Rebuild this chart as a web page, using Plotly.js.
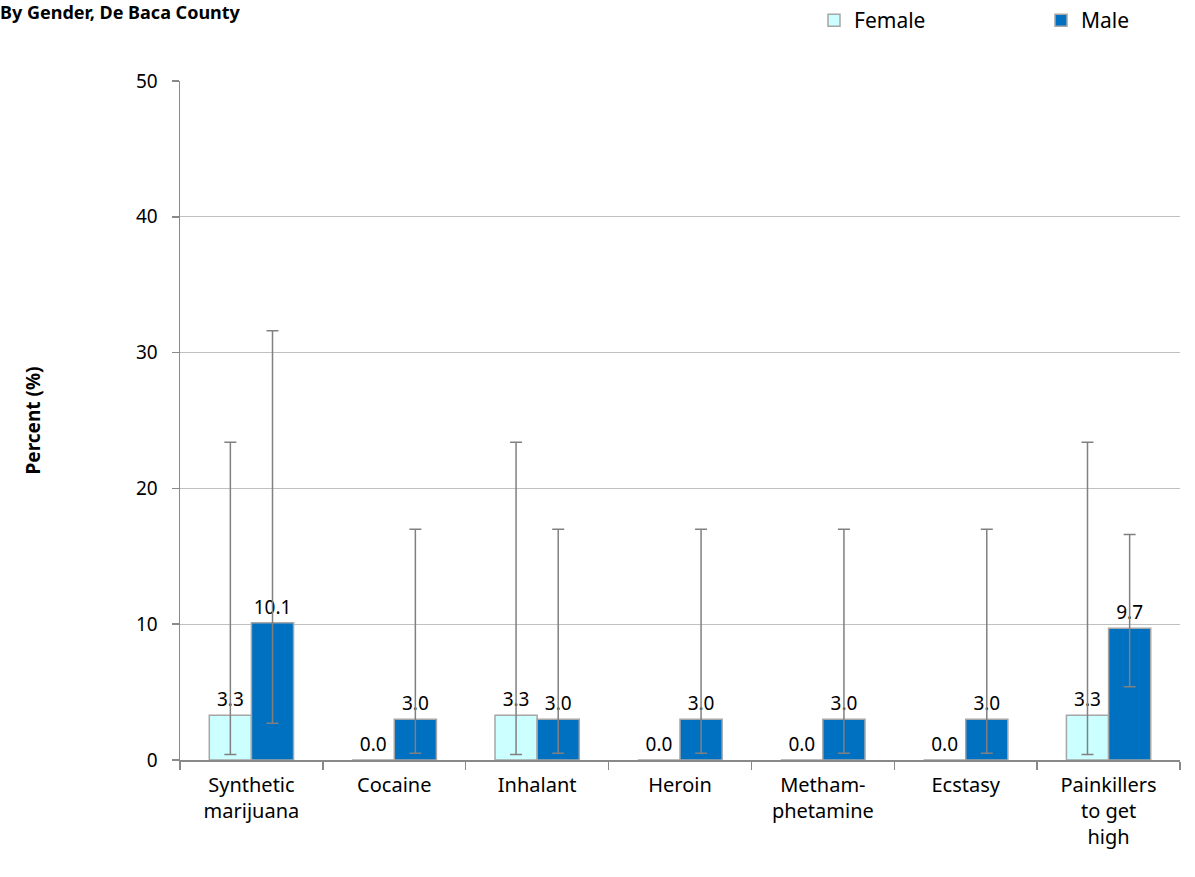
<!DOCTYPE html>
<html>
<head>
<meta charset="utf-8">
<script src="https://cdn.plot.ly/plotly-3.0.1.min.js"></script>
<style>html,body{margin:0;padding:0;background:#fff;}#chart{width:1195px;height:877px;}</style>
</head>
<body>
<div id="chart"></div>
<script>
const categories = ["Synthetic<br>marijuana", "Cocaine", "Inhalant", "Heroin", "Metham-<br>phetamine", "Ecstasy", "Painkillers<br>to get<br>high"];
const femaleValues = [3.3, 0.0, 3.3, 0.0, 0.0, 0.0, 3.3];
const femaleUpper = [23.4, null, 23.4, null, null, null, 23.4];
const femaleLower = [0.4, null, 0.4, null, null, null, 0.4];
const maleValues = [10.1, 3.0, 3.0, 3.0, 3.0, 3.0, 9.7];
const maleUpper = [31.6, 17.0, 17.0, 17.0, 17.0, 17.0, 16.6];
const maleLower = [2.7, 0.5, 0.5, 0.5, 0.5, 0.5, 5.4];

const FONT = "Noto Sans, Open Sans, sans-serif";

function errs(vals, up, lo) {
  return {
    type: 'data', symmetric: false,
    array: vals.map((v, i) => up[i] == null ? NaN : up[i] - v),
    arrayminus: vals.map((v, i) => lo[i] == null ? NaN : v - lo[i]),
    color: '#808080', thickness: 1.5, width: 6,
    visible: true
  };
}

const traces = [
  {
    type: 'bar', name: 'Female', x: categories, y: femaleValues, legend: 'legend',
    marker: {color: '#CCFFFF', line: {color: '#A6A6A6', width: 1.5}},
    text: femaleValues.map(v => v.toFixed(1)), textposition: 'outside',
    textfont: {family: FONT, size: 19, color: '#000'},
    cliponaxis: false,
    error_y: errs(femaleValues, femaleUpper, femaleLower)
  },
  {
    type: 'bar', name: 'Male', x: categories, y: maleValues, legend: 'legend2',
    marker: {color: '#0070C0', line: {color: '#A6A6A6', width: 1.5}},
    text: maleValues.map(v => v.toFixed(1)), textposition: 'outside',
    textfont: {family: FONT, size: 19, color: '#000'},
    cliponaxis: false,
    error_y: errs(maleValues, maleUpper, maleLower)
  }
];

const legendBase = {
  orientation: 'h', xanchor: 'left', y: 1.0, yref: 'container', yanchor: 'top',
  font: {family: FONT, size: 21, color: '#000'}
};

const layout = {
  width: 1195, height: 877,
  margin: {l: 180, r: 15, t: 81, b: 117},
  paper_bgcolor: '#fff', plot_bgcolor: '#fff',
  font: {family: FONT, color: '#000'},
  barmode: 'group', bargap: 0.41, bargroupgap: 0,
  title: {
    text: '<b>By Gender, De Baca County</b>',
    font: {family: FONT, size: 18, color: '#000'},
    x: 0, xref: 'container', xanchor: 'left',
    y: 0.986, yref: 'container', yanchor: 'middle'
  },
  showlegend: true,
  legend: Object.assign({}, legendBase, {x: 0.634}),
  legend2: Object.assign({}, legendBase, {x: 0.861}),
  xaxis: {
    type: 'category',
    tickfont: {family: FONT, size: 20, color: '#000'},
    showline: true, linecolor: '#898989', linewidth: 1.5,
    ticks: 'outside', tickson: 'boundaries', ticklen: 8, tickcolor: '#898989', tickwidth: 1.5,
    ticklabelstandoff: 6,
    showgrid: false
  },
  yaxis: {
    range: [0, 50], dtick: 10, tick0: 0,
    tickfont: {family: FONT, size: 19, color: '#000'},
    showline: true, linecolor: '#898989', linewidth: 1.5,
    ticks: 'outside', ticklen: 7, tickcolor: '#898989', tickwidth: 1.5,
    ticklabelstandoff: 10,
    showgrid: true, gridcolor: '#C0C0C0', gridwidth: 1.2,
    zeroline: false,
    title: {text: '<b>Percent (%)</b>', font: {family: FONT, size: 19, color: '#000'}, standoff: 90}
  }
};

Plotly.newPlot('chart', traces, layout, {displayModeBar: false, staticPlot: true});
</script>
</body>
</html>
